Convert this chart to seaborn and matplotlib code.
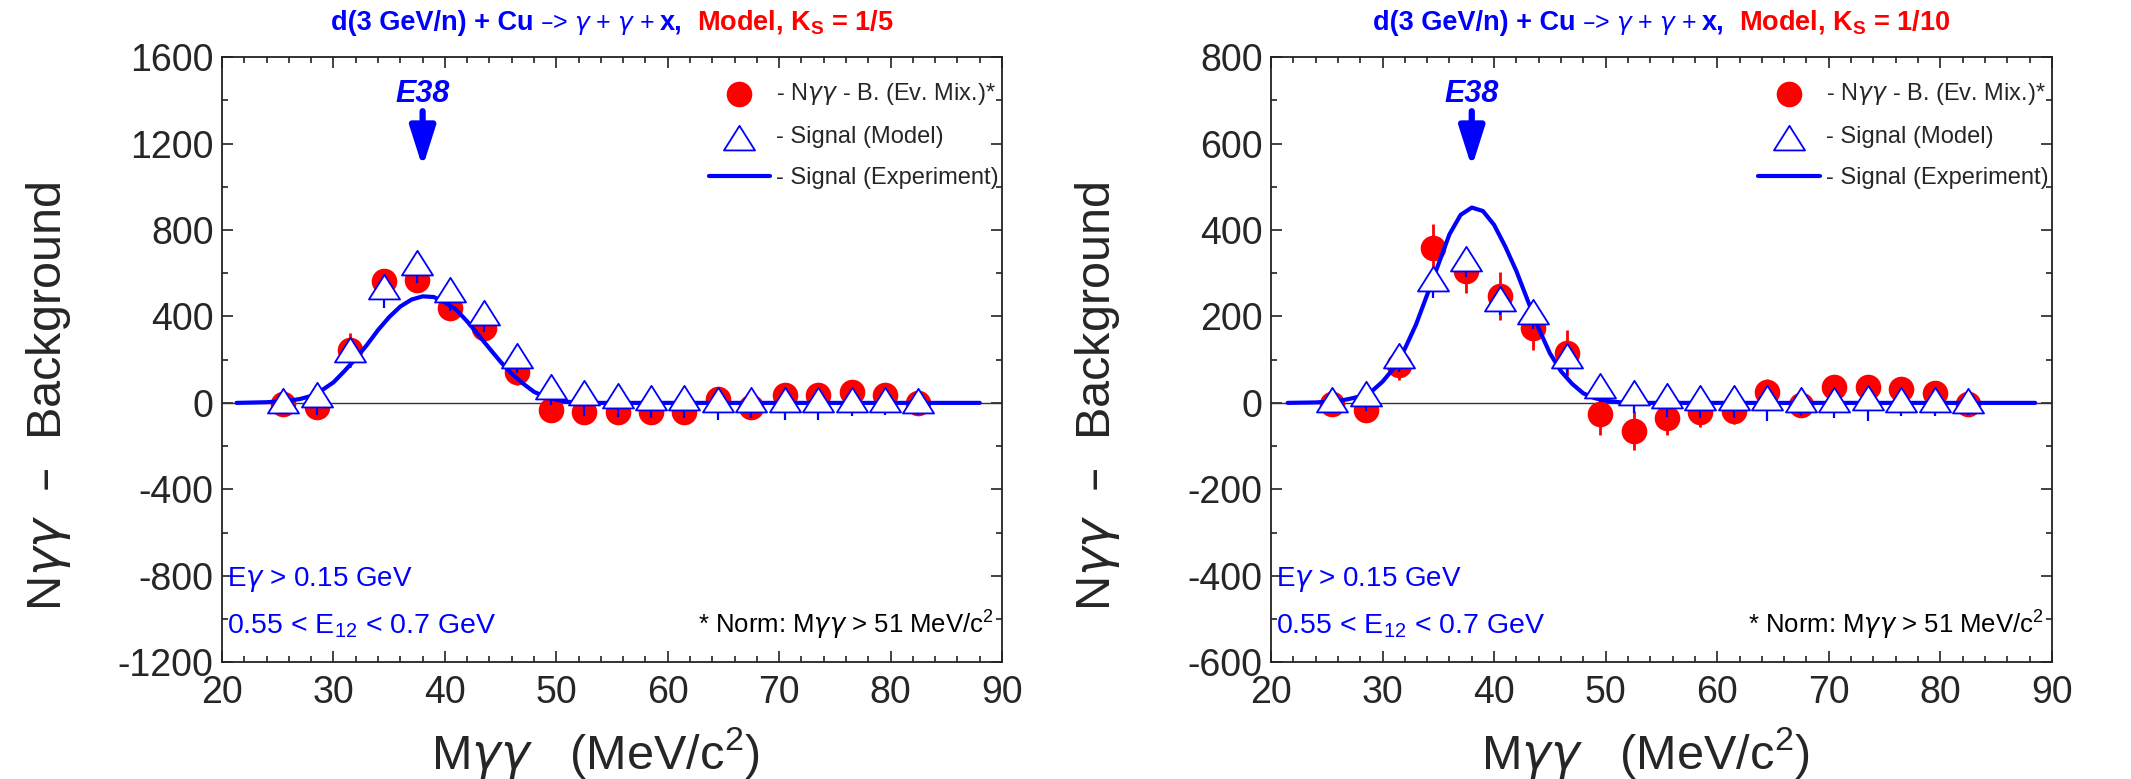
import matplotlib
matplotlib.use("Agg")
import matplotlib.pyplot as plt
from matplotlib.path import Path
from matplotlib.ticker import MultipleLocator
import seaborn as sns

# ---- data -----------------------------------------------------------------
mass = [25.5, 28.5, 31.5, 34.5, 37.5, 40.5, 43.5, 46.5, 49.5, 52.5,
        55.5, 58.5, 61.5, 64.5, 67.5, 70.5, 73.5, 76.5, 79.5, 82.5]

# left panel, K_S = 1/5
left_data = [-5, -20, 245, 563, 570, 440, 345, 145, -35, -42,
             -42, -42, -42, 20, -20, 35, 35, 50, 35, 0]
left_data_err = [40, 50, 80, 55, 55, 55, 55, 60, 50, 50,
                 45, 45, 45, 45, 40, 40, 40, 40, 40, 40]
left_model = [15, 40, 250, 540, 650, 525, 420, 220, 80, 50,
              35, 28, 28, 20, 20, 20, 20, 20, 20, 12]
left_model_err = [60, 95, 90, 100, 95, 100, 93, 80, 92, 110,
                  100, 100, 100, 100, 90, 100, 100, 80, 75, 70]
left_curve_x = [21.3, 24, 26, 27, 28, 29, 30, 31, 32, 33, 34, 35, 36, 37, 38, 39, 40,
                41, 42, 43, 44, 45, 46, 47, 48, 49, 50, 51, 52, 53, 88]
left_curve_y = [0, 3, 10, 18, 32, 60, 95, 148, 205, 268, 337, 397, 446, 478, 493, 490, 465,
                432, 377, 315, 252, 190, 135, 90, 51, 28, 14, 5, 2, 0, 0]

# right panel, K_S = 1/10
right_data = [-2, -17, 88, 359, 305, 247, 173, 115, -25, -64,
              -35, -21, -19, 26, -5, 37, 37, 33, 22, -2]
right_data_err = [20, 25, 35, 54, 50, 55, 50, 53, 50, 46,
                  40, 35, 30, 30, 25, 25, 25, 25, 25, 20]
right_model = [10, 22, 111, 289, 336, 243, 212, 111, 41, 26,
               18, 14, 14, 14, 10, 10, 14, 10, 10, 6]
right_model_err = [30, 40, 40, 46, 45, 40, 40, 47, 40, 50,
                   50, 50, 50, 55, 40, 45, 55, 40, 40, 35]
right_curve_x = [21.5, 24, 26, 27, 28, 29, 30, 31, 32, 33, 34, 35, 36, 37, 38, 39, 40,
                 41, 42, 43, 44, 45, 46, 47, 48, 49, 50, 51, 52, 88.5]
right_curve_y = [0, 1, 4, 9, 15, 26, 49, 80, 125, 181, 250, 320, 390, 435, 452, 444, 412,
                 362, 305, 238, 172, 115, 73, 44, 22, 11, 5, 2, 0, 0]

BLUE = "#0000ff"
RED = "#ff0000"
G = r"$\mathit{\gamma}$"   # curly gamma, closer to the Symbol font of the original

sns.set_style("ticks")
plt.rcParams["font.family"] = ["Liberation Sans", "DejaVu Sans"]
plt.rcParams["mathtext.fontset"] = "dejavusans"
plt.rcParams["mathtext.default"] = "regular"
plt.rcParams["axes.unicode_minus"] = False

LAB_DATA = "- N" + G + G + " - B. (Ev. Mix.)*"
LAB_MODEL = "- Signal (Model)"
LAB_EXP = "- Signal (Experiment)"

# wide open triangle like the original marker
tri = Path([(0, 0.45), (-0.6, -0.5), (0.6, -0.5), (0, 0.45)],
           [Path.MOVETO, Path.LINETO, Path.LINETO, Path.CLOSEPOLY])

fig = plt.figure(figsize=(21.31, 7.79), dpi=100)
ax_l = fig.add_axes([0.1042, 0.150, 0.3660, 0.7766])
ax_r = fig.add_axes([0.5964, 0.150, 0.3665, 0.7766])


def draw_panel(ax, data, data_err, model, model_err, cx, cy, ylim, ymaj, ymin, e38):
    ax.axhline(0, color="#333333", lw=1.0, zorder=1)
    ax.errorbar(mass, data, yerr=data_err, fmt="none", ecolor=RED, elinewidth=2, capsize=0, zorder=2)
    sns.scatterplot(x=mass, y=data, ax=ax, marker="o", s=340, color=RED, edgecolor=RED,
                    linewidth=0, zorder=3, label=LAB_DATA)
    sns.lineplot(x=cx, y=cy, ax=ax, color=BLUE, lw=3.0, zorder=4, sort=False, label=LAB_EXP)
    ax.errorbar(mass, model, yerr=[model_err, [0] * len(model)], fmt="none", ecolor=BLUE,
                elinewidth=1.6, capsize=0, zorder=5)
    sns.scatterplot(x=mass, y=model, ax=ax, marker=tri, s=500, color="white", edgecolor=BLUE,
                    linewidth=1.3, zorder=6, label=LAB_MODEL)

    ax.set_xlim(20, 90)
    ax.set_ylim(*ylim)
    ax.xaxis.set_major_locator(MultipleLocator(10))
    ax.xaxis.set_minor_locator(MultipleLocator(2))
    ax.yaxis.set_major_locator(MultipleLocator(ymaj))
    ax.yaxis.set_minor_locator(MultipleLocator(ymin))
    ax.tick_params(which="both", direction="in", top=True, right=True, width=1.2, color="#222222")
    ax.tick_params(which="major", length=8, labelsize=27)
    ax.tick_params(axis="x", which="major", pad=9)
    ax.tick_params(axis="y", which="major", pad=6)
    ax.tick_params(which="minor", length=4.5)
    for sp in ax.spines.values():
        sp.set_linewidth(1.3)
        sp.set_color("#222222")

    ax.set_xlabel("M" + G + G + "   (MeV/c$^2$)", fontsize=35)
    ax.xaxis.label.set_va("center")
    ax.xaxis.set_label_coords(0.479, -0.15)
    ax.set_ylabel("N" + G + G + "  –  Background", fontsize=35)
    ax.yaxis.label.set_va("center")
    ax.yaxis.set_label_coords(-0.222, 0.44)

    h, lab = ax.get_legend_handles_labels()
    order = [lab.index(LAB_DATA), lab.index(LAB_MODEL), lab.index(LAB_EXP)]
    ax.legend([h[i] for i in order], [lab[i] for i in order], loc="upper right",
              bbox_to_anchor=(1.0, 0.966), frameon=False, fontsize=17, handlelength=2.6,
              handletextpad=0.25, labelspacing=0.8, borderpad=0.1, borderaxespad=0.05)

    # E38 marker
    ax.text(38, e38[0], "E38", color=BLUE, fontsize=22, fontweight="bold", fontstyle="italic",
            ha="center", va="center")
    ax.annotate("", xy=(38, e38[2]), xytext=(38, e38[1]),
                arrowprops=dict(arrowstyle="-|>,head_width=0.35,head_length=1.1", color=BLUE,
                                lw=4.5, mutation_scale=22, shrinkA=0, shrinkB=0))

    ax.text(0.006, 0.136, "E" + G + " > 0.15 GeV", transform=ax.transAxes, color=BLUE,
            fontsize=20, ha="left", va="center")
    ax.text(0.006, 0.060, "0.55 < E$_{12}$ < 0.7 GeV", transform=ax.transAxes, color=BLUE,
            fontsize=20.5, ha="left", va="center")
    ax.text(0.99, 0.060, "* Norm: M" + G + G + " > 51 MeV/c$^2$", transform=ax.transAxes,
            color="black", fontsize=18.5, ha="right", va="center")


draw_panel(ax_l, left_data, left_data_err, left_model, left_model_err,
           left_curve_x, left_curve_y, (-1200, 1600), 400, 200, (1430, 1350, 1090))
draw_panel(ax_r, right_data, right_data_err, right_model, right_model_err,
           right_curve_x, right_curve_y, (-600, 800), 200, 100, (715, 675, 545))

# titles made of coloured pieces, centred over each panel
renderer = fig.canvas.get_renderer()
fig_w = fig.get_figwidth() * fig.dpi


def rich_title(ax, ks):
    pieces = [("d(3 GeV/n) + Cu", BLUE, "bold", 19.5, 7),
              ("–> " + G + " + " + G + " +", BLUE, "normal", 18, 5),
              ("x,", BLUE, "bold", 19.5, 14),
              ("Model, K$_S$ = " + ks, RED, "bold", 19.5, 0)]
    texts = []
    for s, c, w, fs, gap in pieces:
        t = fig.text(0, 0.962, s, color=c, fontweight=w, fontsize=fs, va="baseline", ha="left")
        texts.append((t, gap))
    widths = [t.get_window_extent(renderer).width for t, _ in texts]
    total = sum(widths) + sum(g for _, g in texts)
    pos = ax.get_position()
    x = (pos.x0 + pos.x1) / 2 * fig_w - total / 2
    for (t, gap), w in zip(texts, widths):
        t.set_x(x / fig_w)
        x += w + gap


rich_title(ax_l, "1/5")
rich_title(ax_r, "1/10")

fig.savefig("out.png", dpi=100)
